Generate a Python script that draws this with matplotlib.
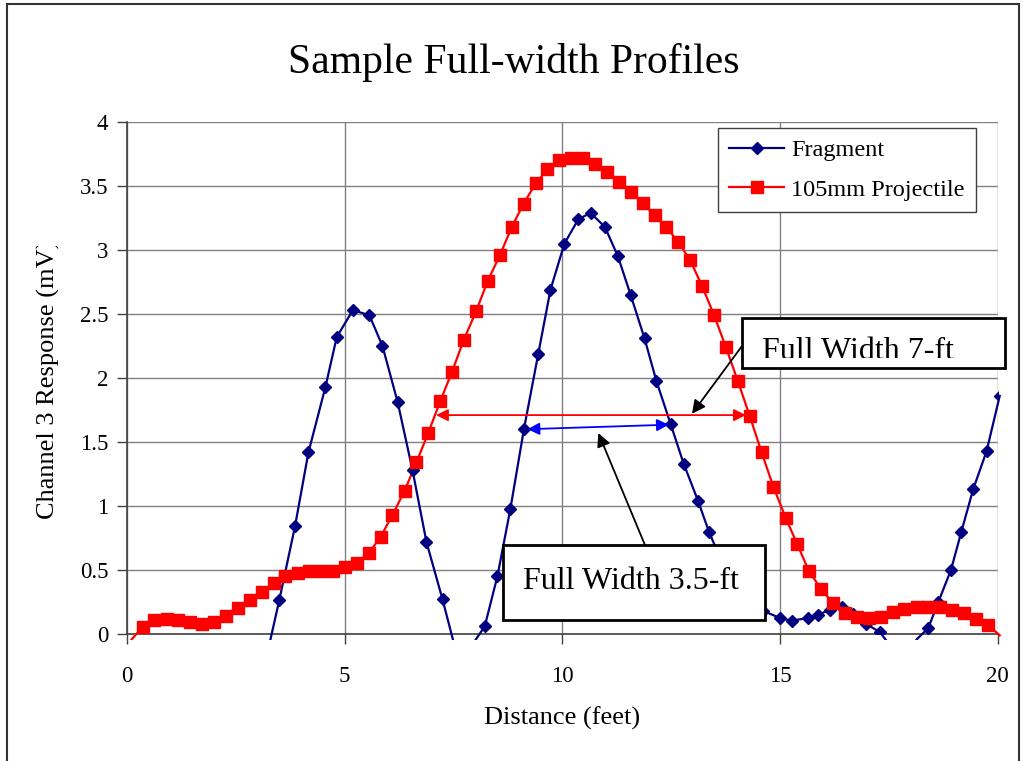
import numpy as np
import matplotlib.pyplot as plt
from matplotlib.patches import Rectangle
from matplotlib.lines import Line2D
from matplotlib.transforms import Bbox, TransformedBbox

plt.rcParams['font.family'] = ['Liberation Serif', 'DejaVu Serif']

# Fragment profile (distance in feet, response in mV)
frag_x = [3.16, 3.50, 3.86, 4.17, 4.56, 4.82, 5.19, 5.57, 5.87, 6.22, 6.56, 6.88,
          7.25, 7.57, 7.90, 8.22, 8.51, 8.81, 9.12, 9.45, 9.73, 10.05, 10.37, 10.65,
          10.98, 11.28, 11.57, 11.89, 12.16, 12.49, 12.79, 13.12, 13.37, 13.68, 13.98,
          14.30, 14.62, 15.00, 15.27, 15.65, 15.88, 16.15, 16.42, 16.68, 16.98, 17.30,
          17.60, 17.90, 18.15, 18.41, 18.64, 18.93, 19.17, 19.44, 19.75, 20.05]
frag_y = [-0.25, 0.265, 0.84, 1.42, 1.93, 2.32, 2.53, 2.49, 2.25, 1.81, 1.28, 0.72,
          0.27, -0.15, -0.10, 0.06, 0.45, 0.98, 1.60, 2.19, 2.69, 3.05, 3.24, 3.29,
          3.18, 2.95, 2.65, 2.31, 1.98, 1.64, 1.33, 1.04, 0.80, 0.55, 0.36,
          0.24, 0.18, 0.125, 0.104, 0.125, 0.15, 0.19, 0.21, 0.16, 0.08, 0.013,
          -0.12, -0.15, -0.04, 0.047, 0.25, 0.50, 0.80, 1.13, 1.43, 1.86]

# 105mm projectile profile
proj_x = [0.09, 0.36, 0.63, 0.91, 1.18, 1.45, 1.73, 2.00, 2.27, 2.55, 2.82, 3.10,
          3.37, 3.64, 3.92, 4.19, 4.46, 4.74, 5.01, 5.28, 5.56, 5.83, 6.10, 6.38,
          6.65, 6.92, 7.20, 7.47, 7.74, 8.02, 8.29, 8.57, 8.84, 9.11, 9.39, 9.66,
          9.93, 10.21, 10.48, 10.75, 11.03, 11.30, 11.57, 11.85, 12.12, 12.39, 12.67,
          12.94, 13.21, 13.49, 13.76, 14.03, 14.31, 14.58, 14.85, 15.13, 15.40, 15.67,
          15.95, 16.22, 16.50, 16.77, 17.04, 17.32, 17.59, 17.86, 18.14, 18.41, 18.68,
          18.96, 19.23, 19.50, 19.78, 20.05]
proj_y = [-0.05, 0.057, 0.11, 0.12, 0.11, 0.09, 0.075, 0.09, 0.14, 0.20, 0.265, 0.325,
          0.40, 0.45, 0.48, 0.49, 0.49, 0.49, 0.525, 0.556, 0.634, 0.76, 0.93, 1.12,
          1.34, 1.57, 1.82, 2.05, 2.30, 2.52, 2.76, 2.96, 3.18, 3.36, 3.52, 3.63,
          3.70, 3.72, 3.72, 3.67, 3.61, 3.53, 3.45, 3.37, 3.27, 3.18, 3.06,
          2.92, 2.72, 2.49, 2.24, 1.98, 1.70, 1.42, 1.15, 0.91, 0.70, 0.49,
          0.35, 0.24, 0.164, 0.13, 0.125, 0.136, 0.17, 0.196, 0.214, 0.21, 0.21,
          0.19, 0.164, 0.117, 0.07, -0.01]

yticks = [0, 0.5, 1, 1.5, 2, 2.5, 3, 3.5, 4]
ytick_labels = ['0', '0.5', '1', '1.5', '2', '2.5', '3', '3.5', '4']
xticks = [0, 5, 10, 15, 20]

blue = '#000080'
red = '#ff0000'
fs = 16.5

fig = plt.figure(figsize=(10.23, 7.61), dpi=100)
ax = fig.add_axes([0.1241, 0.1669, 0.851, 0.6728])

# lines run a few pixels past the plot area, like the original
clip = Rectangle((-0.008, -0.012), 1.016, 1.012, transform=ax.transAxes)
l1, = ax.plot(frag_x, frag_y, color=blue, lw=1.6, zorder=3)
l2, = ax.plot(proj_x, proj_y, color=red, lw=1.6, zorder=3)
l1.set_clip_path(clip)
l2.set_clip_path(clip)

fy = np.ma.masked_less(frag_y, 0)
py = np.ma.masked_less(proj_y, 0)
ax.plot(frag_x, fy, ls='none', marker='D', ms=6.5, color=blue, zorder=4)
ax.plot(proj_x, py, ls='none', marker='s', ms=8, color=red, zorder=4)

ax.set_xlim(0, 20)
ax.set_ylim(0, 4)
ax.set_xticks(xticks)
ax.set_yticks(yticks)
ax.set_yticklabels(ytick_labels)
ax.tick_params(direction='out', length=7, width=1, labelsize=fs,
               color='#404040')
ax.tick_params(axis='x', pad=16)
ax.tick_params(axis='y', pad=6.5)
ax.grid(color='#808080', lw=1.0)
ax.set_axisbelow(True)
for s in ['top', 'right']:
    ax.spines[s].set_visible(False)
for s in ['left', 'bottom']:
    ax.spines[s].set_color('#404040')
    ax.spines[s].set_linewidth(1.2)

h1 = Line2D([], [], color=blue, lw=1.6, marker='D', ms=6.5)
h2 = Line2D([], [], color=red, lw=1.6, marker='s', ms=8)
leg = ax.legend([h1, h2], ['Fragment', '105mm Projectile'], loc='upper right',
                bbox_to_anchor=(0.975, 0.988), fontsize=17.5, fancybox=False,
                edgecolor='#404040', framealpha=1, handlelength=2.25,
                borderaxespad=0, labelspacing=0.72, handletextpad=0.3,
                borderpad=0.45)
leg.get_frame().set_linewidth(1.0)

# full-width arrows
ax.annotate('', xy=(7.1, 1.71), xytext=(14.22, 1.71),
            arrowprops=dict(arrowstyle='<|-|>', color=red, lw=1.3,
                            mutation_scale=18, shrinkA=0, shrinkB=0), zorder=6)
ax.annotate('', xy=(9.2, 1.60), xytext=(12.45, 1.635),
            arrowprops=dict(arrowstyle='<|-|>', color='#0000ff', lw=1.3,
                            mutation_scale=18, shrinkA=0, shrinkB=0), zorder=6)

# call-out boxes
box1 = Rectangle((14.13, 2.08), 6.04, 0.39, fc='white', ec='black', lw=2,
                 clip_on=False, zorder=7)
ax.add_patch(box1)
t1 = ax.text(14.59, 2.145, 'Full Width 7-ft', fontsize=23, va='baseline',
             zorder=8)
t1.set_clip_box(TransformedBbox(Bbox([[14.13, 2.16], [20.17, 2.47]]),
                                ax.transData))
t1.set_clip_on(True)

box2 = Rectangle((8.64, 0.11), 6.02, 0.585, fc='white', ec='black', lw=2,
                 clip_on=False, zorder=7)
ax.add_patch(box2)
ax.text(11.58, 0.35, 'Full Width 3.5-ft', fontsize=23, ha='center',
        va='baseline', zorder=8)

ax.annotate('', xy=(12.98, 1.72), xytext=(14.13, 2.25),
            arrowprops=dict(arrowstyle='-|>', color='black', lw=1.3,
                            mutation_scale=20, shrinkA=0, shrinkB=0), zorder=9)
ax.annotate('', xy=(10.83, 1.57), xytext=(11.9, 0.695),
            arrowprops=dict(arrowstyle='-|>', color='black', lw=1.3,
                            mutation_scale=20, shrinkA=0, shrinkB=0), zorder=9)

fig.text(514 / 1023, 1 - 62 / 761, 'Sample Full-width Profiles', fontsize=30,
         ha='center', va='center')
fig.text(562 / 1023, 1 - 718 / 761, 'Distance (feet)', fontsize=19,
         ha='center', va='center')
yl = fig.text(48 / 1023, 1 - 379 / 761, 'Channel 3 Response (mV)', fontsize=19,
              ha='center', va='center', rotation=90)
yl.set_clip_box(TransformedBbox(Bbox([[0, 0], [0.1, 1 - 246 / 761]]),
                                fig.transFigure))
yl.set_clip_on(True)

fig.add_artist(Rectangle((0.0068, -0.01), 0.9892, 1.0047, transform=fig.transFigure,
                         fill=False, ec='#333333', lw=1.5))

fig.savefig('out.png', dpi=100)
